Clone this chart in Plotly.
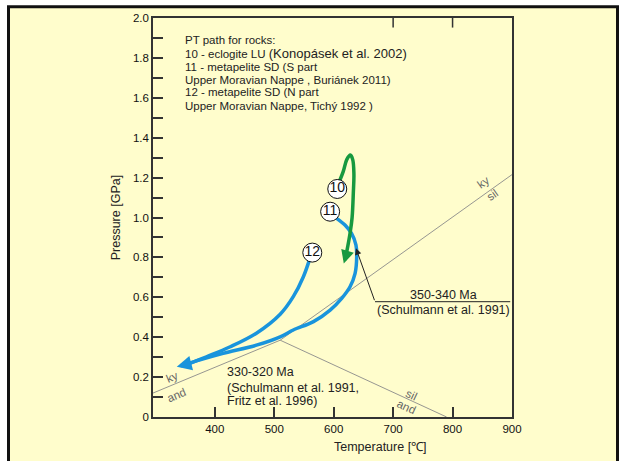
import plotly.graph_objects as go

# ---------------- data ----------------
path10_T = [608, 616, 622, 628, 632, 634, 633, 631, 628, 624, 620]
path10_P = [1.17, 1.23, 1.29, 1.313, 1.29, 1.22, 1.12, 1.00, 0.93, 0.86, 0.80]
path10_tip = (617, 0.77)

path11_T = [605, 619, 630, 637.5, 638.7, 636, 627.5, 613.5, 594, 566, 532, 510, 470, 414, 375, 352]
path11_P = [0.996, 0.962, 0.92, 0.862, 0.803, 0.72, 0.653, 0.595, 0.536, 0.478, 0.436, 0.402, 0.36, 0.319, 0.286, 0.264]
path11_tip = (336, 0.252)

path12_T = [560, 549, 532, 510, 470, 426, 386, 358]
path12_P = [0.795, 0.703, 0.603, 0.515, 0.42, 0.352, 0.302, 0.269]

ky_and_T = [296, 510]
ky_and_P = [0.12, 0.385]
ky_sil_T = [510, 900]
ky_sil_P = [0.385, 1.215]
and_sil_T = [510, 790]
and_sil_P = [0.385, 0.0]

label_names = ["10", "11", "12"]
label_T = [606, 594, 564]
label_P = [1.143, 1.029, 0.824]

x_ticks = [400, 500, 600, 700, 800, 900]
y_ticks = [round(i * 0.1, 1) for i in range(0, 21)]
y_ticktext = ["0" if v == 0 else (f"{v:.1f}" if round(v * 10) % 2 == 0 else "") for v in y_ticks]

legend_lines = [
    "PT path for rocks:",
    "10 - eclogite LU <span style='font-size:13px'>(Konopásek et al. 2002)</span>",
    "11 - metapelite SD (S part",
    "Upper Moravian Nappe , Buriánek 2011)",
    "12 - metapelite SD (N part",
    "Upper Moravian Nappe, Tichý 1992 )",
]
legend_T = 346
legend_P = [1.89, 1.82, 1.756, 1.689, 1.627, 1.559]

age1_lines = ["350-340 Ma", "(Schulmann et al. 1991)"]
age1_T = 785
age1_P = [0.612, 0.536]
age1_line_T = [669.5, 897]
age1_line_P = 0.578
age1_arrow_tip = (637.5, 0.846)

age2_lines = ["330-320 Ma", "(Schulmann et al. 1991,", "Fritz et al. 1996)"]
age2_T = 417
age2_P = [0.227, 0.144, 0.08]

phase_labels = ["ky", "and", "ky", "sil", "sil", "and"]
phase_T = [327.5, 336, 852, 867, 731, 723]
phase_P = [0.202, 0.11, 1.18, 1.113, 0.11, 0.052]
phase_angle = [-23, -23, -35, -35, 25, 25]

GREEN = "#17993f"
BLUE = "#1994dc"
GRAY = "#8a8a8a"
BG = "#FFFDCC"
FONT = "Arial, Liberation Sans, sans-serif"

fig = go.Figure()

# phase boundary lines
for tx, py in [(ky_and_T, ky_and_P), (ky_sil_T, ky_sil_P), (and_sil_T, and_sil_P)]:
    fig.add_trace(go.Scatter(x=tx, y=py, mode="lines", line=dict(color=GRAY, width=0.9),
                             hoverinfo="skip", showlegend=False))

# PT paths
fig.add_trace(go.Scatter(x=path12_T, y=path12_P, mode="lines",
                         line=dict(color=BLUE, width=3.5, shape="spline", smoothing=1.0),
                         showlegend=False))
fig.add_trace(go.Scatter(x=path11_T, y=path11_P, mode="lines",
                         line=dict(color=BLUE, width=3.5, shape="spline", smoothing=1.0),
                         showlegend=False))
fig.add_trace(go.Scatter(x=path10_T, y=path10_P, mode="lines",
                         line=dict(color=GREEN, width=3.5, shape="spline", smoothing=1.0),
                         showlegend=False))

# arrowheads
fig.add_annotation(x=path10_tip[0], y=path10_tip[1], ax=path10_T[-1], ay=path10_P[-1],
                   xref="x", yref="y", axref="x", ayref="y", text="", showarrow=True,
                   arrowhead=2, arrowsize=0.75, arrowwidth=3.5, arrowcolor=GREEN)
fig.add_annotation(x=path11_tip[0], y=path11_tip[1], ax=path11_T[-1], ay=path11_P[-1],
                   xref="x", yref="y", axref="x", ayref="y", text="", showarrow=True,
                   arrowhead=2, arrowsize=0.85, arrowwidth=3.5, arrowcolor=BLUE)

# circled labels
fig.add_trace(go.Scatter(x=label_T, y=label_P, mode="markers+text", text=label_names,
                         textposition="middle center",
                         textfont=dict(family=FONT, size=14, color="#111"),
                         marker=dict(symbol="circle", size=19, color="white",
                                     line=dict(color="#111", width=1)),
                         showlegend=False))

# legend text block
for txt, p in zip(legend_lines, legend_P):
    fig.add_annotation(x=legend_T, y=p, xref="x", yref="y", text=txt, showarrow=False,
                       xanchor="left", yanchor="middle",
                       font=dict(family=FONT, size=11.5, color="#222"))

# 350-340 Ma
for txt, p in zip(age1_lines, age1_P):
    fig.add_annotation(x=age1_T, y=p, xref="x", yref="y", text=txt, showarrow=False,
                       xanchor="center", yanchor="middle",
                       font=dict(family=FONT, size=12.5, color="#222"))
fig.add_trace(go.Scatter(x=age1_line_T, y=[age1_line_P, age1_line_P], mode="lines",
                         line=dict(color="#222", width=1), hoverinfo="skip", showlegend=False))
fig.add_annotation(x=age1_arrow_tip[0], y=age1_arrow_tip[1], ax=age1_line_T[0], ay=age1_line_P,
                   xref="x", yref="y", axref="x", ayref="y", text="", showarrow=True,
                   arrowhead=2, arrowsize=1.3, arrowwidth=1, arrowcolor="#222")

# 330-320 Ma
for txt, p in zip(age2_lines, age2_P):
    fig.add_annotation(x=age2_T, y=p, xref="x", yref="y", text=txt, showarrow=False,
                       xanchor="left", yanchor="middle",
                       font=dict(family=FONT, size=12.5, color="#222"))

# phase labels
for txt, t, p, a in zip(phase_labels, phase_T, phase_P, phase_angle):
    fig.add_annotation(x=t, y=p, xref="x", yref="y", text=txt, showarrow=False,
                       textangle=a, font=dict(family=FONT, size=11.5, color="#666"))

# axis titles
fig.add_annotation(x=-0.102, y=0.499, xref="paper", yref="paper", text="Pressure [GPa]",
                   xanchor="center", yanchor="middle",
                   showarrow=False, textangle=-90, font=dict(family=FONT, size=12.5, color="#222"))
fig.add_annotation(x=0.635, y=-0.0745, xref="paper", yref="paper", text="Temperature [℃]",
                   xanchor="center", yanchor="middle",
                   showarrow=False, font=dict(family=FONT, size=12.5, color="#222"))

# outer frame
fig.add_shape(type="rect", xref="paper", yref="paper", x0=-0.4025, x1=1.2939, y0=-0.16, y1=1.028,
              line=dict(color="#111", width=3), fillcolor=BG, layer="below")
# top ticks at 700 and 800
for t in [700, 800]:
    fig.add_shape(type="line", xref="x", yref="paper", x0=t, x1=t, y0=1.0, y1=0.976,
                  line=dict(color="#333", width=1.5))

fig.update_xaxes(range=[296, 900], tickvals=x_ticks, ticks="inside", ticklen=10, tickwidth=1.5,
                 tickcolor="#333", showline=True, linecolor="#333", linewidth=1.5, mirror=True,
                 showgrid=False, zeroline=False,
                 tickfont=dict(family=FONT, size=11.5, color="#111"))
fig.update_yaxes(range=[0, 2.0], tickvals=y_ticks, ticktext=y_ticktext, ticks="inside", ticklen=10,
                 tickwidth=1.5, tickcolor="#333", showline=True, linecolor="#333", linewidth=1.5,
                 mirror=True, showgrid=False, zeroline=False,
                 tickfont=dict(family=FONT, size=11.5, color="#111"))

fig.update_layout(width=619, height=461, margin=dict(l=153, r=107, t=18, b=44),
                  paper_bgcolor="white", plot_bgcolor="rgba(0,0,0,0)", showlegend=False)

fig.write_html("out.html")
